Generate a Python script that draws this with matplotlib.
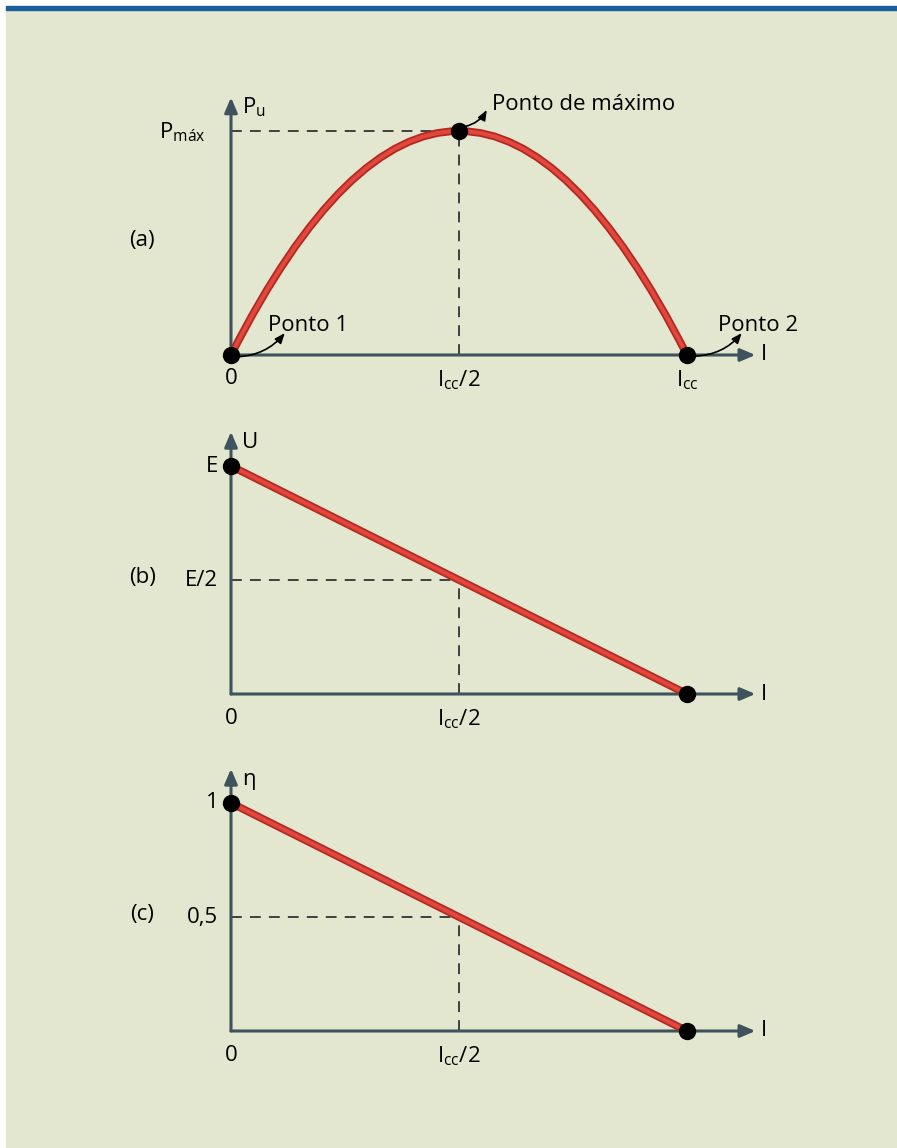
import matplotlib
matplotlib.use("Agg")
import matplotlib.pyplot as plt
from matplotlib.patches import Rectangle, PathPatch
from matplotlib.path import Path

plt.rcParams['font.family'] = ['Open Sans', 'DejaVu Sans']
plt.rcParams['mathtext.fontset'] = 'custom'
plt.rcParams['mathtext.rm'] = 'Open Sans'
plt.rcParams['mathtext.it'] = 'Open Sans:italic'

# curve (a): power vs current, read at start / peak / end (I in units of Icc)
pu_x = [0.0, 0.5, 1.0]
pu_y = [0.0, 1.0, 0.0]
# curve (b): terminal voltage, E at I=0 down to 0 at Icc
u_x = [0.0, 1.0]
u_y = [1.0, 0.0]
# curve (c): efficiency, 1 at I=0 down to 0 at Icc
eta_x = [0.0, 1.0]
eta_y = [1.0, 0.0]

panel_tags = ['(a)', '(b)', '(c)']
y_names = [r'$\mathregular{P_u}$', 'U', 'η']
top_ticks = [r'$\mathregular{P_{máx}}$', 'E', '1']
half_ticks = [None, 'E/2', '0,5']
half_x_label = r'$\mathregular{I_{cc}/2}$'
icc_label = r'$\mathregular{I_{cc}}$'

BG = '#e3e7cf'
AXC = '#3e535d'
DARK_RED = '#b02a22'
RED = '#e2463c'
FS = 16

W, H = 897, 1148
fig = plt.figure(figsize=(W / 100, H / 100), dpi=100)
fig.patch.set_facecolor('white')
fig.add_artist(Rectangle((6 / W, 0), 1 - 6 / W, (H - 10) / H,
                         transform=fig.transFigure, color=BG, zorder=0))
fig.add_artist(Rectangle((6 / W, (H - 10) / H), 1 - 6 / W, 3.5 / H,
                         transform=fig.transFigure, color='#1a5e9c', zorder=0))


def make_axes(x0, y0, x1, y1):
    # pixel box: (x0, y0) = origin, (x1, y1) = point (1, 1)
    ax = fig.add_axes([x0 / W, (H - y0) / H, (x1 - x0) / W, (y0 - y1) / H])
    ax.set_xlim(0, 1)
    ax.set_ylim(0, 1)
    ax.axis('off')
    return ax


def axes_arrows(ax, ext=1.15):
    kw = dict(arrowstyle='-|>,head_length=0.75,head_width=0.32', color=AXC,
              lw=2.2, shrinkA=0, shrinkB=0, mutation_scale=12)
    ax.annotate('', xy=(ext, 0), xytext=(0, 0), arrowprops=kw,
                annotation_clip=False, zorder=2)
    ax.annotate('', xy=(0, ext), xytext=(0, 0), arrowprops=kw,
                annotation_clip=False, zorder=2)
    ax.text(ext + 0.012, 0, 'I', fontsize=FS, va='center', ha='left')


def red_line(ax, path_or_xy):
    if isinstance(path_or_xy, Path):
        ax.add_patch(PathPatch(path_or_xy, fc='none', ec=DARK_RED, lw=5.6,
                               zorder=4, clip_on=False, capstyle='round'))
        ax.add_patch(PathPatch(path_or_xy, fc='none', ec=RED, lw=3.0,
                               zorder=5, clip_on=False))
    else:
        x, y = path_or_xy
        ax.plot(x, y, color=DARK_RED, lw=5.6, zorder=4, clip_on=False,
                solid_capstyle='round')
        ax.plot(x, y, color=RED, lw=3.0, zorder=5, clip_on=False)


def dashes(ax, xs, ys):
    ax.plot(xs, ys, color='#333333', lw=1.3, dashes=(6, 4.5), zorder=1,
            clip_on=False)


def dots(ax, xs, ys):
    ax.plot(xs, ys, 'o', color='black', ms=11.5, zorder=6, clip_on=False)


def curved_arrow(ax, start, end):
    ax.annotate('', xy=end, xytext=start, annotation_clip=False,
                arrowprops=dict(arrowstyle='-|>,head_length=0.55,head_width=0.22',
                                color='black', lw=1.2, shrinkA=0, shrinkB=0,
                                mutation_scale=11,
                                connectionstyle='arc3,rad=0.22'), zorder=7)


boxes = [(231, 355, 687, 131), (231, 694, 687, 466), (231, 1031, 687, 803)]
axes = [make_axes(*b) for b in boxes]

for i, ax in enumerate(axes):
    axes_arrows(ax)
    ax.text(-0.195, 0.51, panel_tags[i], fontsize=FS, ha='center', va='center')
    ax.text(0.024, 1.08, y_names[i], fontsize=FS, ha='left', va='baseline')
    ax.text(0, -0.06, '0', fontsize=FS, ha='center', va='top')
    ax.text(0.5, -0.06, half_x_label, fontsize=FS, ha='center', va='top')

# (a) useful power
ax = axes[0]
ctrl_y = 2 * pu_y[1] - (pu_y[0] + pu_y[2]) / 2
bez = Path([(pu_x[0], pu_y[0]), (pu_x[1], ctrl_y), (pu_x[2], pu_y[2])],
           [Path.MOVETO, Path.CURVE3, Path.CURVE3])
dashes(ax, [0, pu_x[1]], [pu_y[1], pu_y[1]])
dashes(ax, [pu_x[1], pu_x[1]], [0, pu_y[1]])
red_line(ax, bez)
dots(ax, pu_x, pu_y)
ax.text(-0.055, pu_y[1] - 0.035, top_ticks[0], fontsize=FS, ha='right',
        va='baseline')
ax.text(1.0, -0.06, icc_label, fontsize=FS, ha='center', va='top')
ax.text(0.081, 0.107, 'Ponto 1', fontsize=FS, ha='left', va='baseline')
ax.text(1.068, 0.107, 'Ponto 2', fontsize=FS, ha='left', va='baseline')
ax.text(0.572, 1.094, 'Ponto de máximo', fontsize=FS, ha='left',
        va='baseline')
curved_arrow(ax, (0.014, -0.008), (0.118, 0.098))
curved_arrow(ax, (1.018, -0.005), (1.12, 0.098))
curved_arrow(ax, (0.513, 1.02), (0.561, 1.094))

# (b) voltage and (c) efficiency
for ax, xs, ys, i in [(axes[1], u_x, u_y, 1), (axes[2], eta_x, eta_y, 2)]:
    half = (ys[0] + ys[1]) / 2
    dashes(ax, [0, 0.5], [half, half])
    dashes(ax, [0.5, 0.5], [0, half])
    red_line(ax, (xs, ys))
    dots(ax, xs, ys)
    ax.text(-0.028, ys[0], top_ticks[i], fontsize=FS, ha='right', va='center')
    ax.text(-0.028, half, half_ticks[i], fontsize=FS, ha='right', va='center')

fig.savefig('out.png', dpi=100, facecolor=fig.get_facecolor())
